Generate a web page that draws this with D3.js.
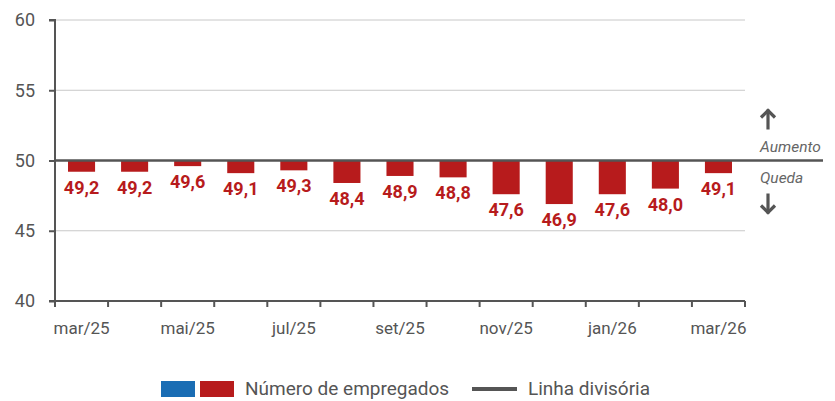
<!DOCTYPE html>
<html>
<head>
<meta charset="utf-8">
<script src="https://cdn.jsdelivr.net/npm/d3@7"></script>
<style>
  body { margin: 0; background: #fff; }
  text { font-family: Roboto, "Noto Sans", sans-serif; }
</style>
</head>
<body>
<div id="chart"></div>
<script>
// data
var months = ["mar/25","abr/25","mai/25","jun/25","jul/25","ago/25","set/25","out/25","nov/25","dez/25","jan/26","fev/26","mar/26"]
var empregados = [49.2, 49.2, 49.6, 49.1, 49.3, 48.4, 48.9, 48.8, 47.6, 46.9, 47.6, 48.0, 49.1]
var yTicks = [40, 45, 50, 55, 60]
var xLabels = ["mar/25","mai/25","jul/25","set/25","nov/25","jan/26","mar/26"]
var divisoria = 50

var W = 835, H = 401
var margin = {top: 20, right: 90, bottom: 100, left: 55},
  width = W - margin.left - margin.right,
  height = H - margin.top - margin.bottom

var grey = "#555", red = "#b71b1c", blue = "#1a6db4"

var svg = d3.select("#chart").append("svg")
  .attr("width", W).attr("height", H)
var g = svg.append("g")
  .attr("transform", "translate(" + margin.left + "," + margin.top + ")")

var x = d3.scaleBand().domain(months).range([0, width]).paddingInner(0.49).paddingOuter(0.245)
var y = d3.scaleLinear().domain([40, 60]).range([height, 0])

var fmt = d3.formatLocale({decimal: ",", thousands: ".", grouping: [3], currency: ["R$", ""]}).format(".1f")

// gridlines
g.selectAll(".grid").data(yTicks.filter(function(d){ return d != divisoria && d != 40 }))
  .enter().append("line")
  .attr("x1", 0).attr("x2", width)
  .attr("y1", function(d){ return y(d) }).attr("y2", function(d){ return y(d) })
  .style("stroke", "#c8c8c8").style("stroke-width", 1)

// bars
g.selectAll(".bar").data(empregados).enter().append("rect")
  .attr("x", function(d, i){ return x(months[i]) })
  .attr("width", x.bandwidth())
  .attr("y", function(d){ return y(Math.max(d, divisoria)) })
  .attr("height", function(d){ return Math.abs(y(d) - y(divisoria)) })
  .style("fill", red)

// bar labels
g.selectAll(".lbl").data(empregados).enter().append("text")
  .attr("x", function(d, i){ return x(months[i]) + x.bandwidth() / 2 })
  .attr("y", function(d){ return y(d) + 22 })
  .attr("text-anchor", "middle")
  .style("font-size", "18px").style("font-weight", "bold")
  .style("fill", red)
  .text(function(d){ return fmt(d) })

// y axis
var yAxis = g.append("g").call(d3.axisLeft(y).tickValues(yTicks).tickSize(6).tickPadding(14))
yAxis.select(".domain").attr("d", "M-6," + y(60) + "H0V" + y(40) + "H-6").style("stroke", grey).style("stroke-width", 2)
yAxis.selectAll(".tick line").style("stroke", grey).style("stroke-width", 2)
yAxis.selectAll(".tick text").style("font-size", "18px").style("fill", grey).style("font-family", "Roboto, sans-serif")

// x axis: ticks at band boundaries
var bounds = d3.range(months.length + 1).map(function(i){ return i * width / months.length })
var xAxis = g.append("g").attr("transform", "translate(0," + height + ")")
xAxis.append("line").attr("x1", 0).attr("x2", width).style("stroke", grey).style("stroke-width", 2)
xAxis.selectAll(".tk").data(bounds).enter().append("line")
  .attr("x1", function(d){ return d }).attr("x2", function(d){ return d })
  .attr("y1", 0).attr("y2", 6)
  .style("stroke", grey).style("stroke-width", 2)
xAxis.selectAll(".xl").data(xLabels).enter().append("text")
  .attr("x", function(d){ return x(d) + x.bandwidth() / 2 })
  .attr("y", 33)
  .attr("text-anchor", "middle")
  .style("font-size", "17px").style("fill", grey)
  .text(function(d){ return d })

// dividing line
g.append("line")
  .attr("x1", 0).attr("x2", width + 78)
  .attr("y1", y(divisoria)).attr("y2", y(divisoria))
  .style("stroke", grey).style("stroke-width", 2.5)

// annotations
var ax = width + 23
function arrow(up) {
  var y0 = up ? y(divisoria) - 51 : y(divisoria) + 33
  var y1 = y0 + 20
  var a = g.append("g").style("stroke", grey).style("stroke-width", 3.2).style("fill", "none")
  a.append("line").attr("x1", ax).attr("x2", ax).attr("y1", y0).attr("y2", y1)
  var tip = up ? y0 + 1 : y1 - 1, d = up ? 7 : -7
  a.append("path").attr("d", "M" + (ax - 7) + "," + (tip + d) + "L" + ax + "," + tip + "L" + (ax + 7) + "," + (tip + d))
}
arrow(true); arrow(false)
g.append("text").attr("x", width + 15).attr("y", y(divisoria) - 9)
  .style("font-size", "15.5px").style("font-style", "italic").style("fill", "#666").text("Aumento")
g.append("text").attr("x", width + 15).attr("y", y(divisoria) + 22)
  .style("font-size", "15.5px").style("font-style", "italic").style("fill", "#666").text("Queda")

// legend
var lg = svg.append("g").attr("transform", "translate(161,381)")
lg.append("rect").attr("x", 0).attr("y", 0).attr("width", 34).attr("height", 16).style("fill", blue)
lg.append("rect").attr("x", 39).attr("y", 0).attr("width", 34).attr("height", 16).style("fill", red)
lg.append("text").attr("x", 84).attr("y", 14).style("font-size", "19px").style("fill", grey).text("Número de empregados")
lg.append("line").attr("x1", 311).attr("x2", 356).attr("y1", 8).attr("y2", 8).style("stroke", grey).style("stroke-width", 4)
lg.append("text").attr("x", 367).attr("y", 14).style("font-size", "19px").style("fill", grey).text("Linha divisória")
</script>
</body>
</html>
